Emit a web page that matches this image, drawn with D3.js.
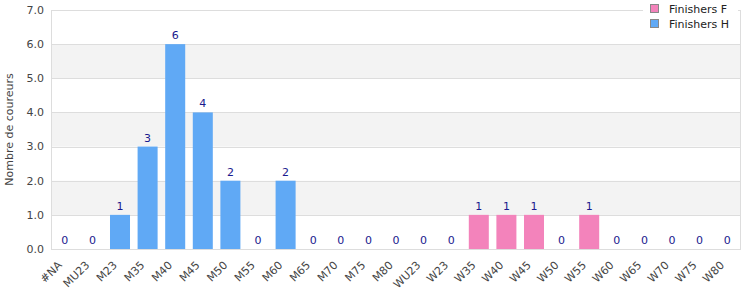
<!DOCTYPE html>
<html>
<head>
<meta charset="utf-8">
<script src="https://cdn.jsdelivr.net/npm/d3@7"></script>
<style>
  body { margin: 0; background: #fff; }
  svg { font-family: "DejaVu Sans", sans-serif; }
</style>
</head>
<body>
<svg id="chart" width="750" height="300"></svg>
<script>
const categories = ['#NA', 'MU23', 'M23', 'M35', 'M40', 'M45', 'M50', 'M55', 'M60', 'M65', 'M70', 'M75', 'M80',
  'WU23', 'W23', 'W35', 'W40', 'W45', 'W50', 'W55', 'W60', 'W65', 'W70', 'W75', 'W80'];
const finishersF = [0, 0, 0, 0, 0, 0, 0, 0, 0, 0, 0, 0, 0, 0, 0, 1, 1, 1, 0, 1, 0, 0, 0, 0, 0];
const finishersH = [0, 0, 1, 3, 6, 4, 2, 0, 2, 0, 0, 0, 0, 0, 0, 0, 0, 0, 0, 0, 0, 0, 0, 0, 0];
const yTicks = [0, 1, 2, 3, 4, 5, 6, 7];

const svg = d3.select('#chart');
const margin = { left: 51, right: 9, top: 10, bottom: 51 };
const width = 750 - margin.left - margin.right;
const height = 300 - margin.top - margin.bottom;
const g = svg.append('g').attr('transform', `translate(${margin.left},${margin.top})`);

const x = d3.scaleBand().domain(categories).range([0, width]).paddingInner(0.275).paddingOuter(0.1375);
const y = d3.scaleLinear().domain([0, 7]).range([height, 0]);

// alternating bands
g.selectAll('.band')
  .data(yTicks.slice(0, -1).filter(d => d % 2 === 1))
  .enter()
  .append('rect')
  .attr('x', 0)
  .attr('width', width)
  .attr('y', d => y(d + 1))
  .attr('height', d => y(d) - y(d + 1))
  .attr('fill', '#f3f3f3');

// grid lines
g.selectAll('.grid')
  .data(yTicks)
  .enter()
  .append('line')
  .attr('x1', 0)
  .attr('x2', width)
  .attr('y1', d => Math.round(y(d)) + 0.5)
  .attr('y2', d => Math.round(y(d)) + 0.5)
  .attr('stroke', '#dddddd');

// frame sides
g.append('line').attr('x1', 0.5).attr('x2', 0.5).attr('y1', 0).attr('y2', height).attr('stroke', '#dddddd');
g.append('line').attr('x1', width - 0.5).attr('x2', width - 0.5).attr('y1', 0).attr('y2', height).attr('stroke', '#dddddd');

const data = categories.map((c, i) => ({ cat: c, f: finishersF[i], h: finishersH[i] }));

// stacked: H at bottom, F on top
g.selectAll('.barH')
  .data(data.filter(d => d.h > 0))
  .enter()
  .append('rect')
  .attr('x', d => x(d.cat))
  .attr('width', x.bandwidth())
  .attr('y', d => y(d.h))
  .attr('height', d => y(0) - y(d.h))
  .attr('fill', '#60a9f5');

g.selectAll('.barF')
  .data(data.filter(d => d.f > 0))
  .enter()
  .append('rect')
  .attr('x', d => x(d.cat))
  .attr('width', x.bandwidth())
  .attr('y', d => y(d.h + d.f))
  .attr('height', d => y(d.h) - y(d.h + d.f))
  .attr('fill', '#f383bb');

// value labels
g.selectAll('.val')
  .data(data)
  .enter()
  .append('text')
  .attr('x', d => x(d.cat) + x.bandwidth() / 2)
  .attr('y', d => y(d.h + d.f) - 5)
  .attr('text-anchor', 'middle')
  .attr('font-size', 11)
  .attr('fill', '#1a1a8e')
  .text(d => d.h + d.f);

// y axis labels
g.selectAll('.ylab')
  .data(yTicks)
  .enter()
  .append('text')
  .attr('x', -7)
  .attr('y', d => y(d))
  .attr('dy', '0.35em')
  .attr('text-anchor', 'end')
  .attr('font-size', 11)
  .attr('fill', '#444')
  .text(d => d.toFixed(1));

// x axis labels
g.selectAll('.xlab')
  .data(categories)
  .enter()
  .append('text')
  .attr('transform', d => `translate(${x(d) + x.bandwidth() / 2 - 5},${height + 14}) rotate(-45)`)
  .attr('text-anchor', 'end')
  .attr('dy', '0.35em')
  .attr('font-size', 11)
  .attr('fill', '#444')
  .text(d => d);

// y title
svg.append('text')
  .attr('transform', `translate(9,${margin.top + height / 2}) rotate(-90)`)
  .attr('text-anchor', 'middle')
  .attr('dy', '0.35em')
  .attr('font-size', 11)
  .attr('fill', '#444')
  .text('Nombre de coureurs');

// legend
const legend = svg.append('g').attr('transform', 'translate(643,0)');
legend.append('rect').attr('x', 0).attr('y', 0).attr('width', 95).attr('height', 34).attr('fill', '#fff');
const legendItems = [{ name: 'Finishers F', color: '#f383bb' }, { name: 'Finishers H', color: '#60a9f5' }];
legendItems.forEach((it, i) => {
  legend.append('rect')
    .attr('x', 7.5).attr('y', 4.5 + i * 15).attr('width', 8).attr('height', 8)
    .attr('fill', it.color).attr('stroke', '#888');
  legend.append('text')
    .attr('x', 26).attr('y', 9 + i * 15).attr('dy', '0.35em')
    .attr('font-size', 11).attr('fill', '#222')
    .text(it.name);
});
</script>
</body>
</html>
